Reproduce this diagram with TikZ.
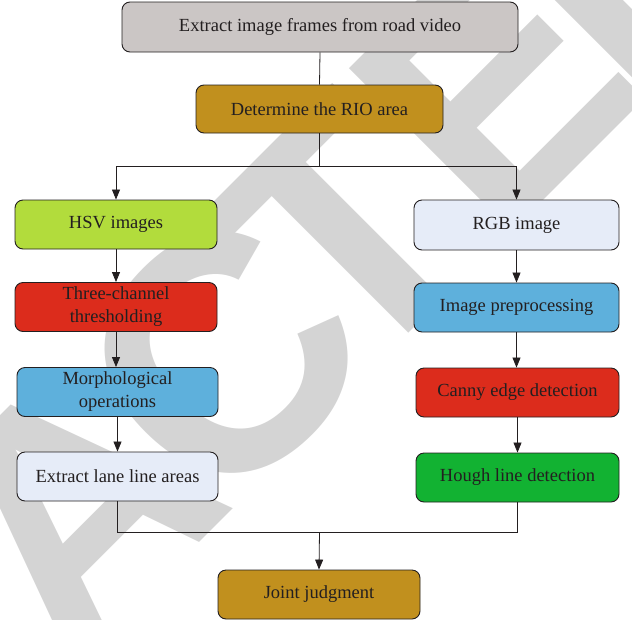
\documentclass[tikz,border=0pt]{standalone}
\usepackage{fontspec}
\setmainfont{Liberation Serif}
\newfontfamily\wmfont{Liberation Sans}
\usetikzlibrary{arrows.meta}
\definecolor{wmgrey}{HTML}{D4D4D4}
\definecolor{boxgrey}{HTML}{CBC6C5}
\definecolor{gold}{HTML}{C1901E}
\definecolor{lime}{HTML}{B2DC3C}
\definecolor{pale}{HTML}{E6ECF8}
\definecolor{red}{HTML}{DC2C1C}
\definecolor{sky}{HTML}{5EB0DC}
\definecolor{grn}{HTML}{12B232}
\definecolor{ink}{HTML}{231F20}
\tikzset{
  stepbox/.style={draw=ink, line width=0.9pt, rounded corners=8pt, minimum height=49pt,
    minimum width=202pt, align=center, text=ink, inner sep=2pt,
    font=\fontsize{18.5}{23}\selectfont},
  wmark/.style={rotate=45, text=wmgrey, inner sep=0pt, anchor=base,
    font=\wmfont\bfseries\fontsize{335}{335}\selectfont},
  link/.style={draw=ink, line width=0.8pt},
  arr/.style={link, -{Triangle[length=10pt,width=8pt]}},
}
\begin{document}
\begin{tikzpicture}[x=1pt,y=-1pt]
\useasboundingbox (0,0) rectangle (632,619);
% diagonal watermark, one letter per node along a 45 degree baseline
\begin{scope}
\clip (0,0) rectangle (632,619);
\node[wmark] (wm1) at (4,738) {R};
\node[wmark] (wm2) at (154,588) {A};
\node[wmark] (wm3) at (304,439) {C};
\node[wmark] (wm4) at (426,316) {T};
\node[wmark] (wm5) at (575,168) {E};
\node[wmark] (wm6) at (718,24) {D};
\end{scope}
% process boxes
\node[stepbox, fill=boxgrey, minimum width=396pt, minimum height=50pt] (frames) at (320,27) {Extract image frames from road video};
\node[stepbox, fill=gold, minimum width=247pt, minimum height=48pt] (rio) at (319.5,109) {Determine the RIO area};
\node[stepbox, fill=lime] (hsv) at (116,224.5) {HSV images};
\node[stepbox, fill=pale, minimum width=205pt, minimum height=50pt] (rgb) at (516.5,225) {RGB image};
\node[stepbox, fill=red] (thr) at (116,307) {Three-channel\\thresholding};
\node[stepbox, fill=sky, minimum width=205pt] (pre) at (516.5,307.5) {Image preprocessing};
\node[stepbox, fill=sky, minimum width=201pt] (morph) at (117.5,392) {Morphological\\operations};
\node[stepbox, fill=red, minimum width=203pt] (canny) at (517.5,392.5) {Canny edge detection};
\node[stepbox, fill=pale, minimum width=201pt] (lane) at (117.5,476.5) {Extract lane line areas};
\node[stepbox, fill=grn, minimum width=203pt] (hough) at (517.5,477.5) {Hough line detection};
\node[stepbox, fill=gold] (joint) at (319,594.5) {Joint judgment};
% connectors
\coordinate (split) at (319.5,166);
\coordinate (merge) at (319.5,532);
\draw[link] (frames.south) -- (rio.north);
\draw[link] (rio.south) -- (split);
\draw[arr] (split) -| (hsv.north);
\draw[arr] (split) -| (rgb.north);
\draw[arr] (hsv) -- (thr);
\draw[arr] (thr.south) -- (thr.south |- morph.north);
\draw[arr] (morph) -- (lane);
\draw[arr] (rgb) -- (pre);
\draw[arr] (pre) -- (pre |- canny.north);
\draw[arr] (canny) -- (hough);
\draw[link] (lane.south) |- (merge);
\draw[link] (hough.south) |- (merge);
\draw[arr] (merge) -- (joint.north);
\end{tikzpicture}
\end{document}
